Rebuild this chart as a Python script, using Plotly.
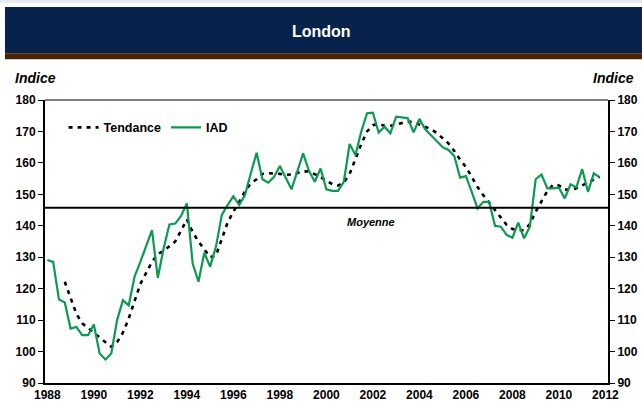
import plotly.graph_objects as go

# ---------------- data ----------------
quarters = [1988 + q / 4 for q in range(96)]

iad = [129.1, 128.5, 116.6, 115.6, 107.3, 107.8, 105.2, 105.2,
       108.6, 99.4, 97.5, 99.4, 110.0, 116.3, 114.7, 123.8,
       128.5, 133.5, 138.6, 123.4, 132.8, 140.4, 140.7, 143.1,
       147.1, 128.0, 122.2, 131.4, 127.0, 133.3, 143.4, 146.6,
       149.4, 146.6, 149.8, 156.7, 163.2, 154.8, 153.7, 155.6,
       159.0, 155.3, 151.6, 157.3, 163.0, 157.5, 154.0, 158.2,
       151.6, 151.1, 151.1, 154.0, 166.0, 162.5, 170.0, 175.8,
       176.0, 169.6, 171.5, 169.4, 174.7, 174.5, 174.2, 169.7,
       174.0, 170.7, 168.8, 166.9, 165.0, 164.1, 162.2, 155.3,
       155.8, 150.8, 145.5, 147.6, 147.6, 140.0, 139.7, 137.1,
       136.2, 141.0, 136.0, 139.7, 154.8, 156.3, 151.9, 151.9,
       152.1, 148.7, 153.2, 152.2, 158.0, 150.8, 156.7, 155.4]

tendance = [None, None, None, 122.2, 117.0, 112.0, 109.0, 107.5,
            106.0, 104.5, 102.8, 101.5, 103.0, 106.0, 110.5, 116.0,
            121.5, 125.0, 128.5, 131.0, 132.0, 133.5, 135.0, 138.5,
            142.0, 138.0, 135.0, 132.5, 130.0, 130.5, 135.5, 141.0,
            144.5, 147.5, 151.0, 153.5, 154.8, 156.5, 156.7, 156.7,
            156.5, 156.2, 156.3, 156.8, 157.3, 157.3, 156.5, 155.5,
            154.3, 153.3, 152.8, 153.8, 156.5, 161.5, 166.0, 170.0,
            172.0, 172.4, 171.8, 171.8, 172.2, 172.7, 173.1, 173.0,
            172.3, 171.5, 170.7, 169.5, 168.0, 166.2, 163.8, 161.0,
            158.7, 155.5, 152.3, 149.7, 147.3, 145.0, 142.7, 140.3,
            139.0, 138.6, 138.6, 140.5, 144.5, 148.0, 151.0, 153.0,
            152.8, 151.5, 151.5, 151.9, 152.8, 153.7, 154.7, 155.6]

moyenne = 145.7
year_ticks = list(range(1988, 2013, 2))
y_ticks = list(range(90, 181, 10))

# ---------------- styles ----------------
FONT = "Liberation Sans"
GREEN = "#0b9a50"
NAVY = "#07234b"
BROWN = "#4a2204"

fig = go.Figure()

fig.add_trace(go.Scatter(
    x=quarters, y=tendance, name="Tendance", mode="lines",
    line=dict(color="black", width=2.6, dash="4px,5px"),
))
fig.add_trace(go.Scatter(
    x=quarters, y=iad, name="IAD", mode="lines",
    line=dict(color=GREEN, width=2.2),
))
# invisible trace to activate the right axis
fig.add_trace(go.Scatter(
    x=quarters, y=iad, yaxis="y2", mode="lines",
    line=dict(width=0), opacity=0, showlegend=False, hoverinfo="skip",
))

tickfont = dict(family=FONT, size=12, color="black", weight="bold")

fig.update_layout(
    width=642, height=404,
    margin=dict(l=45, r=34, t=100, b=21, autoexpand=False),
    paper_bgcolor="white", plot_bgcolor="white",
    showlegend=True,
    legend=dict(orientation="h", x=0.033, y=0.902, xanchor="left", yanchor="middle",
                bgcolor="rgba(0,0,0,0)",
                font=dict(family=FONT, size=12.5, color="black", weight="bold"),
                itemwidth=30, tracegroupgap=0),
    xaxis=dict(range=[1987.90, 2012.11], tickvals=year_ticks,
               ticktext=[str(t) for t in year_ticks],
               showgrid=False, zeroline=False, automargin=False,
               showline=True, linecolor="black", linewidth=2,
               ticks="", tickfont=tickfont),
    yaxis=dict(range=[90, 180], tickvals=y_ticks, showgrid=False, zeroline=False,
               automargin=False,
               showline=True, linecolor="black", linewidth=2,
               ticks="outside", ticklen=5, tickwidth=1, tickcolor="black",
               tickfont=tickfont),
    yaxis2=dict(range=[90, 180], tickvals=y_ticks, overlaying="y", side="right",
                showgrid=False, zeroline=False, automargin=False,
                showline=True, linecolor="black", linewidth=2,
                ticks="outside", ticklen=5, tickwidth=1, tickcolor="black",
                tickfont=tickfont),
)

shapes = [
    # light strip at very top
    dict(type="rect", xref="paper", yref="paper", x0=-0.09, x1=1.8, y0=1.344, y1=1.36,
         fillcolor="#e6e9f0", line=dict(width=0), layer="below"),
    # navy title band
    dict(type="rect", xref="paper", yref="paper", x0=-0.0711, x1=1.8, y0=1.1655, y1=1.329,
         fillcolor=NAVY, line=dict(width=0), layer="below"),
    # brown stripe
    dict(type="rect", xref="paper", yref="paper", x0=-0.0711, x1=1.8, y0=1.1444, y1=1.1655,
         fillcolor=BROWN, line=dict(width=0), layer="below"),
    # top border of plot
    dict(type="line", xref="paper", yref="paper", x0=0, x1=1, y0=1, y1=1,
         line=dict(color="#555555", width=1.5)),
    # mean line
    dict(type="line", xref="paper", yref="y", x0=0, x1=1, y0=moyenne, y1=moyenne,
         line=dict(color="black", width=2)),
]
fig.update_layout(shapes=shapes)

annotations = [
    dict(text="London", xref="paper", yref="paper", x=0.4905, y=1.2406,
         showarrow=False, font=dict(family=FONT, size=16, color="white", weight="bold"),
         xanchor="center", yanchor="middle"),
    dict(text="<i>Indice</i>", xref="paper", yref="paper", x=(13 - 45) / 562.7, y=1.0778,
         showarrow=False, font=dict(family=FONT, size=14, color="black", weight="bold"),
         xanchor="left", yanchor="middle"),
    dict(text="<i>Indice</i>", xref="paper", yref="paper", x=(636 - 45) / 562.7, y=1.0778,
         showarrow=False, font=dict(family=FONT, size=14, color="black", weight="bold"),
         xanchor="right", yanchor="middle"),
    dict(text="<i>Moyenne</i>", x=2001.9, y=141.2, xref="x", yref="y",
         showarrow=False, font=dict(family=FONT, size=11, color="black", weight="bold"),
         xanchor="center", yanchor="middle"),
]
fig.update_layout(annotations=annotations)

fig.write_html("out.html",
               config={"displayModeBar": False},
               post_script="document.body.style.margin='0';document.body.style.overflow='hidden';")
